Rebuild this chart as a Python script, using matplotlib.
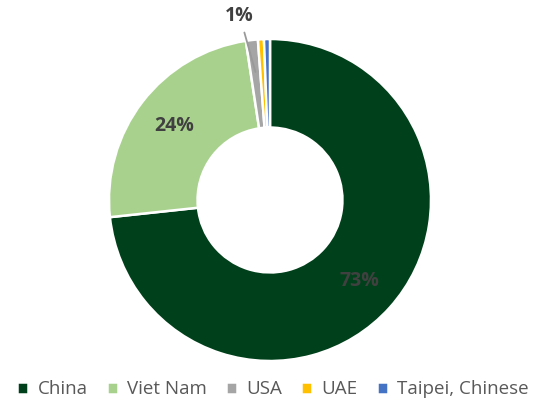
import numpy as np
import matplotlib.pyplot as plt

# Share of imports by origin (%)
countries = ["China", "Viet Nam", "USA", "UAE", "Taipei, Chinese"]
shares = [73.3, 24.3, 1.2, 0.6, 0.6]
colors = ["#00401A", "#A9D18E", "#A5A5A5", "#FFC000", "#4472C4"]

plt.rcParams["font.family"] = ["Open Sans", "DejaVu Sans"]

fig = plt.figure(figsize=(5.46, 4.05), dpi=100)
ax = fig.add_axes([0, 0, 1, 1])


def inner_label(pct):
    # only the big slices get a label inside the ring
    return f"{pct:.0f}%" if pct >= 5 else ""


wedges, _, autotexts = ax.pie(
    shares, colors=colors, startangle=90, counterclock=False,
    autopct=inner_label, pctdistance=0.75,
    wedgeprops=dict(width=0.55, edgecolor="white", linewidth=1.8),
    textprops=dict(color="#404040", fontsize=14, fontweight="bold"),
)

# outside label with leader line for USA
usa = wedges[2]
mid = np.deg2rad((usa.theta1 + usa.theta2) / 2)
ax.annotate(
    f"{shares[2]:.0f}%",
    xy=(0.8 * np.cos(mid), 0.8 * np.sin(mid)),
    xytext=(1.16 * np.cos(mid + 0.05), 1.16 * np.sin(mid + 0.05)),
    ha="center", va="center", color="#404040", fontsize=14, fontweight="bold",
    arrowprops=dict(arrowstyle="-", color="#999999", lw=1.3, shrinkA=3, shrinkB=0),
    zorder=5,
)

ax.set_xlim(-270 / 161, 276 / 161)
ax.set_ylim(-205 / 161, 200 / 161)
ax.set_aspect("auto")

ax.legend(
    wedges, countries, loc="lower center", bbox_to_anchor=(0.5, -0.025),
    ncol=5, frameon=False, fontsize=13.5, labelcolor="#595959",
    handlelength=0.6, handleheight=0.6, handletextpad=0.5, columnspacing=1.0,
)

fig.savefig("out.png", dpi=100)
